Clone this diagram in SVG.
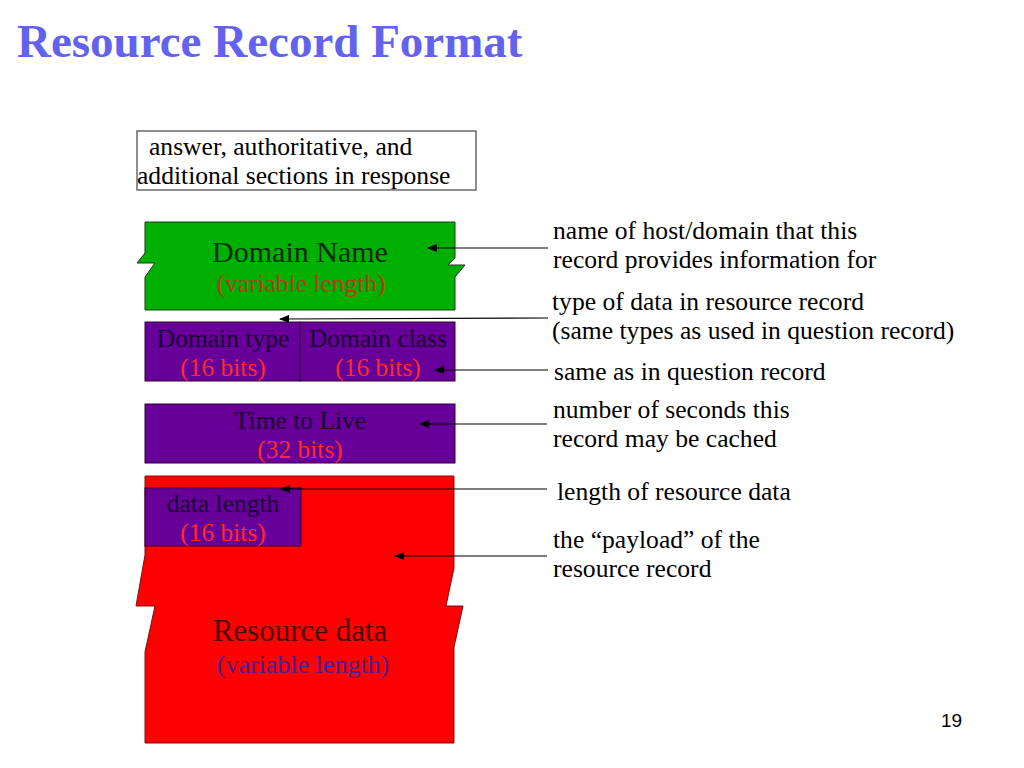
<svg xmlns="http://www.w3.org/2000/svg" width="1024" height="768" viewBox="0 0 1024 768">
<defs>
<style>
text{font-family:"Liberation Serif","Times New Roman",serif;}
.title{font-size:47px;font-weight:bold;fill:#6262ee;}
.note{font-size:25.6px;fill:#000;}
.big{font-size:30px;text-anchor:middle;}
.mid{font-size:25.5px;text-anchor:middle;}
.dark{fill:#1a0033;}
.red{fill:#ff2a2a;}
.edge{stroke:#000;stroke-width:1.2;fill:none;}
.box{stroke:#330033;stroke-width:1;}
</style>
<marker id="ah" markerWidth="10" markerHeight="8" refX="9" refY="4" orient="auto" markerUnits="userSpaceOnUse">
<path d="M0,0 L10,4 L0,8 Z" fill="#000"/>
</marker>
</defs>
<rect width="1024" height="768" fill="#fff"/>
<text class="title" x="17" y="57">Resource Record Format</text>

<g id="sections">
<rect x="137" y="131" width="339" height="59" fill="#fff" stroke="#444" stroke-width="1.2"/>
<text class="note" x="149" y="155">answer, authoritative, and</text>
<text class="note" x="137" y="184">additional sections in response</text>
</g>

<g id="domain-name">
<path d="M145,222 L455,222 L455,258 L448,265 L465,265 L455,277 L455,310 L145,310 L145,277 L155,263 L137,263 L145,253 Z" fill="#00b000" stroke="#1a3a1a" stroke-width="1"/>
<text class="big" x="300" y="262" fill="#0a2a0a">Domain Name</text>
<text class="mid" x="301" y="292" fill="#b83a1a">(variable length)</text>
</g>

<g id="domain-type">
<rect class="box" x="145" y="322" width="155" height="59" fill="#660099"/>
<text class="mid dark" x="223" y="347">Domain type</text>
<text class="mid red" x="223" y="376">(16 bits)</text>
</g>
<g id="domain-class">
<rect class="box" x="300" y="322" width="155" height="59" fill="#660099"/>
<text class="mid dark" x="378" y="347">Domain class</text>
<text class="mid red" x="378" y="376">(16 bits)</text>
</g>

<g id="ttl">
<rect class="box" x="145" y="404" width="310" height="59" fill="#660099"/>
<text class="mid dark" x="300" y="429">Time to Live</text>
<text class="mid red" x="300" y="458">(32 bits)</text>
</g>

<g id="resource-data">
<path d="M145,476 L454,476 L454,568 L446,606 L463,606 L454,647 L454,743 L145,743 L145,652 L155,606 L136,606 L145,555 Z" fill="#ff0000" stroke="#7a1010" stroke-width="1"/>
<text x="300" y="641" font-size="31" text-anchor="middle" fill="#4a0808">Resource data</text>
<text x="303" y="673" font-size="26" text-anchor="middle" fill="#4a2090">(variable length)</text>
</g>

<g id="data-length">
<rect class="box" x="145" y="488" width="156" height="58" fill="#660099"/>
<text class="mid dark" x="223" y="512">data length</text>
<text class="mid red" x="223" y="541">(16 bits)</text>
</g>

<g id="connectors">
<line class="edge" x1="548" y1="248" x2="428" y2="248" marker-end="url(#ah)"/>
<line class="edge" x1="548" y1="318" x2="280" y2="319" marker-end="url(#ah)"/>
<line class="edge" x1="548" y1="370" x2="435" y2="370" marker-end="url(#ah)"/>
<line class="edge" x1="547" y1="424" x2="420" y2="424" marker-end="url(#ah)"/>
<line class="edge" x1="547" y1="489" x2="281" y2="489" marker-end="url(#ah)"/>
<line class="edge" x1="547" y1="556" x2="395" y2="556" marker-end="url(#ah)"/>
</g>

<g id="labels">
<text class="note" x="553" y="239">name of host/domain that this</text>
<text class="note" x="553" y="268">record provides information for</text>
<text class="note" x="552" y="310">type of data in resource record</text>
<text class="note" x="552" y="339">(same types as used in question record)</text>
<text class="note" x="554" y="380">same as in question record</text>
<text class="note" x="553" y="418">number of seconds this</text>
<text class="note" x="553" y="447">record may be cached</text>
<text class="note" x="557" y="500">length of resource data</text>
<text class="note" x="553" y="548">the “payload” of the</text>
<text class="note" x="553" y="577">resource record</text>
</g>

<text x="941" y="727" font-size="19" fill="#000" style="font-family:'Liberation Sans',Arial,sans-serif">19</text>
</svg>
